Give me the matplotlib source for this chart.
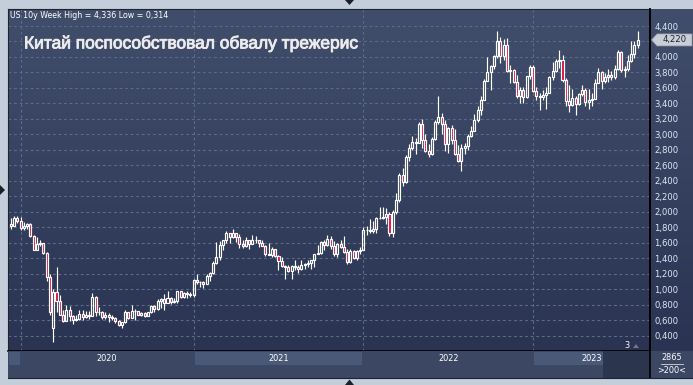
import numpy as np
import matplotlib
matplotlib.use("Agg")
import matplotlib.pyplot as plt
import matplotlib.transforms as mtransforms
import matplotlib.patheffects as pe
from matplotlib.colors import LinearSegmentedColormap
from matplotlib.patches import Polygon, Rectangle

W, H = 693, 385

# weekly bars, 2019-12-13 .. 2023-08-18
opens = [1.84, 1.82, 1.92, 1.88, 1.79, 1.82, 1.84, 1.68, 1.51, 1.58, 1.59, 1.47, 1.15,
         0.50, 0.96, 0.85, 0.67, 0.59, 0.73, 0.65, 0.60, 0.62, 0.68, 0.64, 0.66,
         0.65, 0.90, 0.70, 0.70, 0.64, 0.67, 0.64, 0.63, 0.59, 0.53, 0.57, 0.71,
         0.63, 0.72, 0.72, 0.67, 0.69, 0.65, 0.70, 0.78, 0.74, 0.84, 0.87, 0.82,
         0.89, 0.83, 0.84, 0.97, 0.90, 0.95, 0.94,
         0.92, 1.12, 1.09, 1.09, 1.07, 1.17, 1.21, 1.34, 1.41, 1.57, 1.63, 1.72,
         1.67, 1.72, 1.67, 1.58, 1.56, 1.63, 1.58, 1.63, 1.63, 1.59, 1.56, 1.45,
         1.44, 1.52, 1.43, 1.36, 1.30, 1.28, 1.23, 1.30, 1.28, 1.26, 1.31, 1.32,
         1.34, 1.37, 1.46, 1.47, 1.61, 1.57, 1.65, 1.56, 1.45, 1.58, 1.55, 1.48,
         1.35, 1.49, 1.40, 1.49,
         1.51, 1.77, 1.77, 1.75, 1.78, 1.92, 1.92, 1.93, 1.97, 1.73, 2.00, 2.15,
         2.48, 2.38, 2.71, 2.83, 2.90, 2.89, 3.13, 2.93, 2.79, 2.74, 2.94, 3.16,
         3.23, 3.13, 2.88, 3.08, 2.93, 2.75, 2.65, 2.83, 2.85, 2.98, 3.04, 3.19,
         3.32, 3.45, 3.69, 3.80, 3.88, 4.01, 4.21, 4.01, 4.16, 3.82, 3.83, 3.68,
         3.49, 3.57, 3.48, 3.75,
         3.87, 3.56, 3.50, 3.48, 3.51, 3.53, 3.74, 3.82, 3.95, 3.96, 3.70, 3.43,
         3.38, 3.47, 3.39, 3.52, 3.57, 3.42, 3.44, 3.46, 3.67, 3.80, 3.69, 3.74,
         3.77, 3.74, 3.84, 4.06, 3.83, 3.84, 3.95, 4.04, 4.15]
highs = [1.92, 1.95, 1.94, 1.93, 1.87, 1.86, 1.85, 1.70, 1.67, 1.64, 1.60, 1.48, 1.19,
         1.00, 1.28, 0.92, 0.73, 0.79, 0.78, 0.67, 0.66, 0.73, 0.73, 0.72, 0.72,
         0.95, 0.91, 0.77, 0.72, 0.71, 0.69, 0.66, 0.64, 0.60, 0.58, 0.73, 0.71,
         0.79, 0.74, 0.72, 0.71, 0.70, 0.71, 0.80, 0.79, 0.87, 0.89, 0.94, 0.97,
         0.90, 0.89, 0.98, 0.98, 0.96, 0.97, 0.96,
         1.13, 1.19, 1.11, 1.11, 1.19, 1.22, 1.36, 1.61, 1.62, 1.64, 1.75, 1.73,
         1.78, 1.73, 1.71, 1.63, 1.67, 1.63, 1.70, 1.69, 1.63, 1.63, 1.57, 1.59,
         1.54, 1.52, 1.44, 1.42, 1.31, 1.31, 1.31, 1.38, 1.31, 1.38, 1.34, 1.38,
         1.38, 1.46, 1.57, 1.62, 1.63, 1.70, 1.69, 1.62, 1.60, 1.63, 1.69, 1.52,
         1.52, 1.51, 1.50, 1.55,
         1.80, 1.81, 1.90, 1.88, 1.93, 2.06, 2.06, 2.05, 1.99, 2.02, 2.24, 2.50,
         2.56, 2.73, 2.88, 2.98, 2.95, 3.16, 3.20, 3.00, 2.87, 2.97, 3.18, 3.50,
         3.28, 3.19, 3.10, 3.12, 3.07, 2.86, 2.87, 2.89, 3.00, 3.11, 3.26, 3.36,
         3.50, 3.72, 4.00, 3.90, 4.02, 4.34, 4.26, 4.23, 4.25, 3.89, 3.84, 3.77,
         3.61, 3.61, 3.76, 3.89,
         3.90, 3.61, 3.54, 3.57, 3.61, 3.75, 3.93, 3.98, 4.09, 4.02, 3.73, 3.64,
         3.59, 3.49, 3.54, 3.64, 3.60, 3.58, 3.53, 3.72, 3.86, 3.82, 3.79, 3.84,
         3.82, 3.89, 4.09, 4.08, 3.88, 4.02, 4.20, 4.20, 4.33]
lows = [1.78, 1.81, 1.86, 1.77, 1.76, 1.78, 1.67, 1.50, 1.51, 1.56, 1.45, 1.11, 0.66,
        0.31, 0.70, 0.66, 0.57, 0.59, 0.59, 0.55, 0.59, 0.60, 0.60, 0.63, 0.61,
        0.65, 0.65, 0.67, 0.62, 0.62, 0.57, 0.60, 0.56, 0.52, 0.50, 0.56, 0.62,
        0.63, 0.60, 0.66, 0.65, 0.64, 0.65, 0.69, 0.71, 0.73, 0.75, 0.73, 0.82,
        0.81, 0.82, 0.82, 0.88, 0.89, 0.88, 0.90,
        0.90, 1.06, 1.03, 1.01, 1.06, 1.11, 1.20, 1.33, 1.38, 1.50, 1.60, 1.60,
        1.66, 1.61, 1.53, 1.53, 1.55, 1.52, 1.58, 1.60, 1.55, 1.56, 1.43, 1.44,
        1.42, 1.42, 1.25, 1.29, 1.13, 1.22, 1.13, 1.25, 1.21, 1.25, 1.26, 1.29,
        1.26, 1.29, 1.45, 1.46, 1.51, 1.56, 1.52, 1.43, 1.42, 1.53, 1.47, 1.33,
        1.34, 1.39, 1.37, 1.45,
        1.50, 1.70, 1.73, 1.72, 1.73, 1.90, 1.91, 1.84, 1.68, 1.67, 1.97, 2.13,
        2.33, 2.37, 2.65, 2.80, 2.74, 2.89, 2.82, 2.77, 2.71, 2.73, 2.93, 3.14,
        3.01, 2.79, 2.76, 2.87, 2.73, 2.64, 2.52, 2.74, 2.80, 2.97, 3.04, 3.16,
        3.25, 3.44, 3.69, 3.57, 3.85, 3.99, 3.92, 3.96, 3.81, 3.67, 3.67, 3.47,
        3.40, 3.40, 3.47, 3.72,
        3.55, 3.44, 3.32, 3.45, 3.33, 3.53, 3.70, 3.80, 3.86, 3.68, 3.37, 3.29,
        3.37, 3.25, 3.38, 3.50, 3.37, 3.33, 3.37, 3.46, 3.66, 3.58, 3.66, 3.68,
        3.70, 3.71, 3.83, 3.81, 3.74, 3.82, 3.94, 3.99, 4.12]
closes = [1.82, 1.92, 1.88, 1.79, 1.82, 1.84, 1.68, 1.51, 1.58, 1.59, 1.47, 1.15, 0.71,
          0.96, 0.85, 0.67, 0.59, 0.73, 0.65, 0.60, 0.62, 0.68, 0.64, 0.66, 0.65,
          0.90, 0.70, 0.70, 0.64, 0.67, 0.64, 0.63, 0.59, 0.53, 0.57, 0.71, 0.63,
          0.72, 0.72, 0.67, 0.69, 0.65, 0.70, 0.78, 0.74, 0.84, 0.87, 0.82, 0.89,
          0.83, 0.84, 0.97, 0.90, 0.95, 0.94, 0.92,
          1.12, 1.09, 1.09, 1.07, 1.17, 1.21, 1.34, 1.41, 1.57, 1.63, 1.72, 1.67,
          1.72, 1.67, 1.58, 1.56, 1.63, 1.58, 1.63, 1.63, 1.59, 1.56, 1.45, 1.44,
          1.52, 1.43, 1.36, 1.30, 1.28, 1.23, 1.30, 1.28, 1.26, 1.31, 1.32, 1.34,
          1.37, 1.46, 1.47, 1.61, 1.57, 1.65, 1.56, 1.45, 1.58, 1.55, 1.48, 1.35,
          1.49, 1.40, 1.49, 1.51,
          1.77, 1.77, 1.75, 1.78, 1.92, 1.92, 1.93, 1.97, 1.73, 2.00, 2.15, 2.48,
          2.38, 2.71, 2.83, 2.90, 2.89, 3.13, 2.93, 2.79, 2.74, 2.94, 3.16, 3.23,
          3.13, 2.88, 3.08, 2.93, 2.75, 2.65, 2.83, 2.85, 2.98, 3.04, 3.19, 3.32,
          3.45, 3.69, 3.80, 3.88, 4.01, 4.21, 4.01, 4.16, 3.82, 3.83, 3.68, 3.49,
          3.57, 3.48, 3.75, 3.87,
          3.56, 3.50, 3.48, 3.51, 3.53, 3.74, 3.82, 3.95, 3.96, 3.70, 3.43, 3.38,
          3.47, 3.39, 3.52, 3.57, 3.42, 3.44, 3.46, 3.67, 3.80, 3.69, 3.74, 3.77,
          3.74, 3.84, 4.06, 3.83, 3.84, 3.95, 4.04, 4.15, 4.22]

year_labels = ["2020", "2021", "2022", "2023"]
year_start = [3, 56, 108, 160]   # bar index of first week of each year
y_ticks = [0.4, 0.6, 0.8, 1.0, 1.2, 1.4, 1.6, 1.8, 2.0, 2.2, 2.4, 2.6, 2.8, 3.0,
           3.2, 3.4, 3.6, 3.8, 4.0, 4.2, 4.4]

header = "US 10y Week High = 4,336 Low = 0,314"
title = "Китай поспособствовал обвалу трежерис"


def box(x0, y0, x1, y1):
    return [x0 / W, 1 - y1 / H, (x1 - x0) / W, (y1 - y0) / H]


fig = plt.figure(figsize=(W / 100, H / 100), dpi=100)
fig.patch.set_facecolor("#c4ceda")

# gradient panel background
bg = fig.add_axes(box(8, 9, 693, 351))
cmap = LinearSegmentedColormap.from_list("panel", ["#414e6b", "#2a3452"])
bg.imshow(np.linspace(0, 1, 256).reshape(-1, 1), cmap=cmap, aspect="auto",
          extent=[0, 1, 0, 1])
bg.axis("off")

XMIN, XMAX = -0.86, 195.8
ax = fig.add_axes(box(8, 9, 650, 351))
ax.patch.set_alpha(0)
ax.set_xlim(XMIN, XMAX)
ax.set_ylim(0.2, 4.62)

o, hi, lo, c = map(np.array, (opens, highs, lows, closes))
x = np.arange(len(c))
up = c >= o
body_lo = np.minimum(o, c)
body_hi = np.maximum(o, c)

grid_kw = dict(color="#5c6b89", lw=0.8, ls=(0, (2.5, 2.5)), zorder=1)
for t in y_ticks:
    ax.axhline(t, **grid_kw)
for i in year_start:
    ax.axvline(i, **grid_kw)

ax.vlines(x, lo, body_lo, color="white", lw=0.85, zorder=3)
ax.vlines(x, body_hi, hi, color="white", lw=0.85, zorder=3)
ax.bar(x[up], (c - o)[up], bottom=o[up], width=0.62, facecolor="none",
       edgecolor="white", lw=0.85, zorder=4)
ax.bar(x[~up], (o - c)[~up], bottom=c[~up], width=0.62, facecolor="#dc0a3c",
       edgecolor="white", lw=0.85, zorder=4)

last = closes[-1]
ax.set_xticks([])
ax.yaxis.tick_right()
ax.set_yticks(y_ticks)
# the tick under the last-price flag is hidden, as in the terminal
ax.set_yticklabels(["" if abs(t - last) < 0.1 else f"{t:.3f}".replace(".", ",")
                    for t in y_ticks])
ax.tick_params(axis="y", length=0, pad=3, labelsize=6.1, labelcolor="#dde7f5")
for s in ("left", "top"):
    ax.spines[s].set_color("#1c2333")
for s in ("right", "bottom"):
    ax.spines[s].set_color("black")
    ax.spines[s].set_linewidth(1.2)

# last price flag
tr = mtransforms.blended_transform_factory(ax.transAxes, ax.transData)
fx = lambda px: (px - 8) / (650 - 8)
ax.add_patch(Polygon([(fx(651.5), last), (fx(657), last + 0.078), (fx(692), last + 0.078),
                      (fx(692), last - 0.078), (fx(657), last - 0.078)],
                     closed=True, transform=tr, clip_on=False,
                     facecolor="#c9cdd5", edgecolor="#8d95a5", lw=0.5, zorder=6))
ax.text(fx(674.5), last, f"{last:.3f}".replace(".", ","), transform=tr,
        ha="center", va="center", fontsize=6.1, color="#1b2436", zorder=7)

# time strip
st = fig.add_axes(box(8, 351, 650, 378))
st.set_xlim(XMIN, XMAX)
st.set_ylim(0, 1)
st.set_facecolor("#3b4763")
st.set_xticks([])
st.set_yticks([])
for s in st.spines.values():
    s.set_visible(False)
bounds = [XMIN] + year_start + [XMAX]
for k in range(len(bounds) - 1):
    if k % 2 == 0:
        st.add_patch(Rectangle((bounds[k] + 0.3, 0.5), bounds[k + 1] - bounds[k] - 0.6,
                               0.45, facecolor="#4b5978", edgecolor="none"))
for k, lab in enumerate(year_labels):
    st.text((bounds[k + 1] + bounds[k + 2]) / 2, 0.73, lab, ha="center", va="center",
            fontsize=5.9, color="white")
st.add_patch(Rectangle((181.4, 0), XMAX - 181.4, 1, facecolor="#2b354e",
                       edgecolor="none"))

# decorations in pixel space
ov = fig.add_axes([0, 0, 1, 1])
ov.set_xlim(0, W)
ov.set_ylim(H, 0)
ov.axis("off")
ov.patch.set_alpha(0)
ov.add_patch(Rectangle((650, 351), 43, 27, facecolor="#3b4763", edgecolor="none"))
ov.plot([650, 650], [9, 378], color="black", lw=1.2)
ov.plot([8, 693], [378, 378], color="#1c2333", lw=0.8)
ov.text(671.5, 357.5, "2865", ha="center", va="center", fontsize=5.9, color="white")
ov.plot([661, 683], [363.5, 363.5], color="#d0d8e6", lw=0.6)
ov.text(671.5, 370.5, ">200<", ha="center", va="center", fontsize=5.9, color="white")
ov.text(626.5, 345, "3", ha="center", va="center", fontsize=5.9, color="white")
ov.add_patch(Polygon([(633, 348), (639, 348), (636, 344)], facecolor="#6c7690",
                     edgecolor="none"))
ov.add_patch(Polygon([(345, 0), (354, 0), (349.5, 5)], facecolor="#1a1f2a"))
ov.add_patch(Polygon([(345, 385), (354, 385), (349.5, 379.5)], facecolor="#1a1f2a"))
ov.add_patch(Polygon([(0, 185), (0, 195), (5, 190)], facecolor="#1a1f2a"))
ov.text(10, 15, header, ha="left", va="center", fontsize=5.7, color="white",
        family="DejaVu Sans")
ov.text(24, 43.5, title, ha="left", va="center", fontsize=12.5, color="#ececec",
        family="Liberation Sans",
        path_effects=[pe.withStroke(linewidth=0.6, foreground="#ececec")])

fig.savefig("out.png", dpi=100, facecolor=fig.get_facecolor())
